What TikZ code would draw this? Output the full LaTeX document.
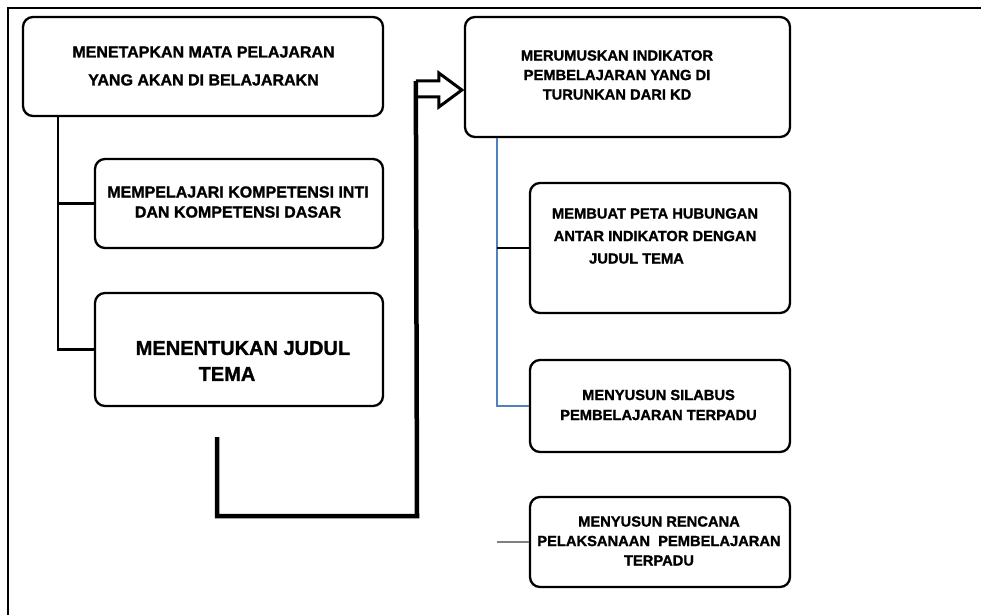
\documentclass[tikz,border=0pt]{standalone}
\usepackage{fontspec}
\setmainfont[BoldFeatures={FakeBold=1.3}]{Liberation Sans}
\usetikzlibrary{calc}
\definecolor{treeblue}{RGB}{79,129,189}
\definecolor{treegrey}{RGB}{128,128,128}
\begin{document}
\begin{tikzpicture}[x=1pt,y=-1pt,
  box/.style={draw, line width=2.3pt, rounded corners=10pt, fill=white, inner sep=0pt},
  ltxt/.style={align=center, inner sep=0pt, font=\fontsize{16}{20}\selectfont\bfseries},
  rtxt/.style={align=center, inner sep=0pt, font=\fontsize{14.7}{20}\selectfont\bfseries},
  frameline/.style={line width=2.2pt},
  link/.style={line width=2.2pt},
  bluelink/.style={line width=1.8pt, draw=treeblue},
  greylink/.style={line width=1.8pt, draw=treegrey},
  thickline/.style={line width=4.5pt},
  blockarrow/.style={line width=3pt, line join=miter}]
\useasboundingbox (0,0) rectangle (981,615);

% frame
\coordinate (f1) at (981,8);
\coordinate (f2) at (8,8);
\coordinate (f3) at (8,615);
\draw[frameline] (f1) -- (f2) -- (f3);

% boxes
\node[box, minimum width=360pt, minimum height=99pt]  (b1) at (203,66.5) {};
\node[box, minimum width=288pt, minimum height=89pt]  (b2) at (239,203.5) {};
\node[box, minimum width=288pt, minimum height=113pt] (b3) at (239,349.5) {};
\node[box, minimum width=325pt, minimum height=120pt] (b4) at (627.5,77) {};
\node[box, minimum width=260pt, minimum height=130pt] (b5) at (660,248) {};
\node[box, minimum width=260pt, minimum height=92pt]  (b6) at (660,406) {};
\node[box, minimum width=260pt, minimum height=90pt]  (b7) at (660,542) {};

% texts
\node[ltxt, font=\fontsize{16}{28}\selectfont\bfseries] (t1) at (203.5,66) {MENETAPKAN MATA PELAJARAN\\YANG AKAN DI BELAJARAKN};
\node[ltxt] (t2) at (238,202) {MEMPELAJARI KOMPETENSI INTI\\DAN KOMPETENSI DASAR};
\node[ltxt, font=\fontsize{20}{26}\selectfont\bfseries] (t3) at (243,361) {MENENTUKAN JUDUL\\TEMA\hspace*{32pt}};
\node[rtxt, font=\fontsize{14.7}{19.5}\selectfont\bfseries] (t4) at (617,75) {MERUMUSKAN INDIKATOR\\PEMBELAJARAN YANG DI\\TURUNKAN DARI KD};
\node[rtxt, font=\fontsize{14.7}{22.5}\selectfont\bfseries] (t5) at (655,236) {MEMBUAT PETA HUBUNGAN\\ANTAR INDIKATOR DENGAN\\JUDUL TEMA\hspace*{37pt}};
\node[rtxt] (t6) at (658.5,405) {MENYUSUN SILABUS\\PEMBELAJARAN TERPADU};
\node[rtxt, font=\fontsize{14.7}{19.5}\selectfont\bfseries] (t7) at (659,541) {MENYUSUN RENCANA\\PELAKSANAAN\ \ PEMBELAJARAN\\TERPADU};

% left tree
\coordinate (l1) at ($(b1.south west)+(36,0)$);
\draw[link] (l1) |- (b3.west);
\draw[link] (l1 |- b2.west) -- (b2.west);

% right tree
\coordinate (r1) at ($(b4.south west)+(33,0)$);
\draw[bluelink] (r1) |- (b6.west);
\draw[link] (r1 |- b5.west) -- (b5.west);
\draw[greylink] (r1 |- b7.west) -- (b7.west);

% thick connector with block arrow
\coordinate (s) at (217,437);
\coordinate (k) at (417,516);
\coordinate (tip) at ($(b4.west)+(-2,13)$);
\coordinate (a1) at ($(tip)+(-46,-9)$);
\draw[thickline] (s) |- (k) -- (a1);
\draw[blockarrow] (a1) -- ++(23,0) -- ++(0,-8) -- (tip) -- ++(-23,17) -- ++(0,-10) -- ++(-21,0);
\end{tikzpicture}
\end{document}
